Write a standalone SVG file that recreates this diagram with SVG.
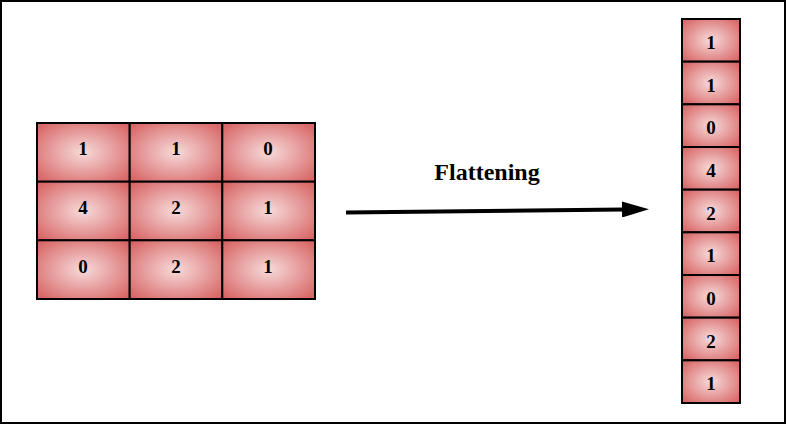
<svg xmlns="http://www.w3.org/2000/svg" width="787" height="426" viewBox="0 0 787 426">
<defs>
<radialGradient id="cellg" cx="50%" cy="50%" r="65%">
<stop offset="0" stop-color="#f7dada"/>
<stop offset="1" stop-color="#d86666"/>
</radialGradient>
<marker id="ah" viewBox="0 0 27 16" refX="1" refY="8" markerWidth="6.75" markerHeight="4" markerUnits="strokeWidth" orient="auto">
<path d="M0,0 L27,8 L0,16 Z" fill="#000"/>
</marker>
</defs>
<style>
.cell{fill:url(#cellg);stroke:#000;stroke-width:2}
.num{font-family:"Liberation Serif",serif;font-weight:bold;font-size:19px;text-anchor:middle;fill:#000}
.lbl{font-family:"Liberation Serif",serif;font-weight:bold;font-size:24px;text-anchor:middle;fill:#000}
</style>
<rect x="1" y="1" width="784" height="422" fill="#fff" stroke="#000" stroke-width="2"/>
<g id="matrix">
<rect class="cell" x="37" y="123" width="92.7" height="58.7"/>
<rect class="cell" x="129.7" y="123" width="92.7" height="58.7"/>
<rect class="cell" x="222.3" y="123" width="92.7" height="58.7"/>
<rect class="cell" x="37" y="181.7" width="92.7" height="58.7"/>
<rect class="cell" x="129.7" y="181.7" width="92.7" height="58.7"/>
<rect class="cell" x="222.3" y="181.7" width="92.7" height="58.7"/>
<rect class="cell" x="37" y="240.3" width="92.7" height="58.7"/>
<rect class="cell" x="129.7" y="240.3" width="92.7" height="58.7"/>
<rect class="cell" x="222.3" y="240.3" width="92.7" height="58.7"/>
<text class="num" x="83" y="155">1</text>
<text class="num" x="176" y="155">1</text>
<text class="num" x="268" y="155">0</text>
<text class="num" x="83" y="214">4</text>
<text class="num" x="176" y="214">2</text>
<text class="num" x="268" y="214">1</text>
<text class="num" x="83" y="273">0</text>
<text class="num" x="176" y="273">2</text>
<text class="num" x="268" y="273">1</text>
</g>
<g id="vector">
<rect class="cell" x="682" y="19" width="58" height="42.67"/>
<rect class="cell" x="682" y="61.67" width="58" height="42.67"/>
<rect class="cell" x="682" y="104.33" width="58" height="42.67"/>
<rect class="cell" x="682" y="147" width="58" height="42.67"/>
<rect class="cell" x="682" y="189.67" width="58" height="42.67"/>
<rect class="cell" x="682" y="232.33" width="58" height="42.67"/>
<rect class="cell" x="682" y="275" width="58" height="42.67"/>
<rect class="cell" x="682" y="317.67" width="58" height="42.67"/>
<rect class="cell" x="682" y="360.33" width="58" height="42.67"/>
<text class="num" x="711" y="49">1</text>
<text class="num" x="711" y="91.7">1</text>
<text class="num" x="711" y="134.3">0</text>
<text class="num" x="711" y="177">4</text>
<text class="num" x="711" y="219.7">2</text>
<text class="num" x="711" y="262.3">1</text>
<text class="num" x="711" y="305">0</text>
<text class="num" x="711" y="347.7">2</text>
<text class="num" x="711" y="390.3">1</text>
</g>
<g id="connectors">
<line x1="346" y1="212.5" x2="623" y2="209.5" stroke="#000" stroke-width="4" marker-end="url(#ah)"/>
<text class="lbl" x="487" y="180">Flattening</text>
</g>
</svg>
